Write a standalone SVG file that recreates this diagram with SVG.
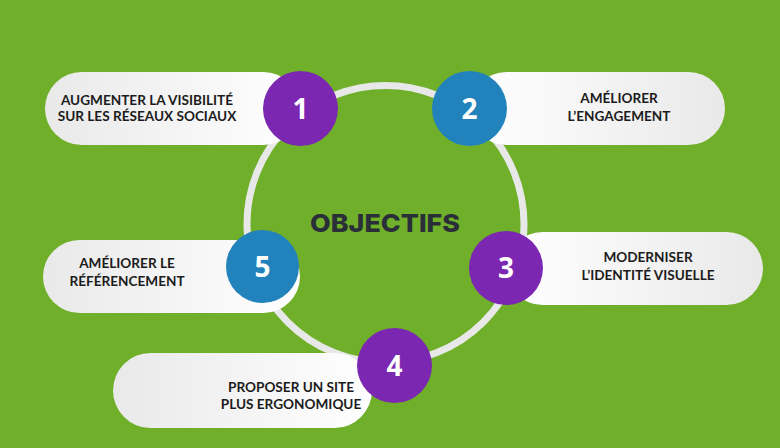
<svg xmlns="http://www.w3.org/2000/svg" width="780" height="448" viewBox="0 0 780 448">
  <defs>
    <linearGradient id="gL" x1="0" y1="0" x2="1" y2="0">
      <stop offset="0" stop-color="#e9e9e9"/>
      <stop offset="1" stop-color="#ffffff"/>
    </linearGradient>
    <linearGradient id="gR" x1="0" y1="0" x2="1" y2="0">
      <stop offset="0" stop-color="#ffffff"/>
      <stop offset="1" stop-color="#e9e9e9"/>
    </linearGradient>
    <style>
      .lbl { font-family: Lato, "Liberation Sans", sans-serif; font-weight: 700; font-size: 13.6px; fill: #1c1c1c; text-anchor: middle; }
      .num { font-family: "Open Sans", "Liberation Sans", sans-serif; font-weight: 700; font-size: 28px; fill: #ffffff; text-anchor: middle; }
      .purple { fill: #7b27b1; }
      .blue { fill: #2282bb; }
      .title { font-family: Inter, "Open Sans", sans-serif; font-weight: 800; font-size: 25px; fill: #2a2e38; text-anchor: middle; }
    </style>
  </defs>
  <rect width="780" height="448" fill="#70af2a"/>
  <g id="connectors">
    <circle cx="385.5" cy="224" r="138.5" fill="none" stroke="#e8e8e8" stroke-width="7"/>
  </g>
  <g id="title">
    <text class="title" x="385" y="232" textLength="150" lengthAdjust="spacingAndGlyphs">OBJECTIFS</text>
  </g>
  <g id="node1">
    <rect x="45" y="72" width="255" height="73" rx="36.5" fill="url(#gL)"/>
    <text class="lbl" x="147" y="105">AUGMENTER LA VISIBILITÉ</text>
    <text class="lbl" x="147" y="121">SUR LES RÉSEAUX SOCIAUX</text>
    <circle class="purple" cx="300.5" cy="108.5" r="37.5"/>
    <text class="num" x="300.5" y="118.5">1</text>
  </g>
  <g id="node2">
    <rect x="470" y="72" width="255" height="73" rx="36.5" fill="url(#gR)"/>
    <text class="lbl" x="619" y="103">AMÉLIORER</text>
    <text class="lbl" x="619" y="121">L’ENGAGEMENT</text>
    <circle class="blue" cx="469.5" cy="108.5" r="37.5"/>
    <text class="num" x="469.5" y="118.5">2</text>
  </g>
  <g id="node3">
    <rect x="506" y="232" width="257" height="73" rx="36.5" fill="url(#gR)"/>
    <text class="lbl" x="648" y="262">MODERNISER</text>
    <text class="lbl" x="648" y="280">L’IDENTITÉ VISUELLE</text>
    <circle class="purple" cx="506" cy="268" r="37"/>
    <text class="num" x="506" y="278">3</text>
  </g>
  <g id="node4">
    <rect x="113" y="353" width="259" height="75" rx="37.5" fill="url(#gL)"/>
    <text class="lbl" x="291" y="392">PROPOSER UN SITE</text>
    <text class="lbl" x="291" y="409">PLUS ERGONOMIQUE</text>
    <circle class="purple" cx="394.5" cy="365.5" r="37.5"/>
    <text class="num" x="394.5" y="375.5">4</text>
  </g>
  <g id="node5">
    <rect x="43" y="240" width="257" height="73" rx="36.5" fill="url(#gL)"/>
    <text class="lbl" x="127" y="268">AMÉLIORER LE</text>
    <text class="lbl" x="127" y="286">RÉFÉRENCEMENT</text>
    <circle class="blue" cx="262.5" cy="266.5" r="36.5"/>
    <text class="num" x="262.5" y="276.5">5</text>
  </g>
</svg>
